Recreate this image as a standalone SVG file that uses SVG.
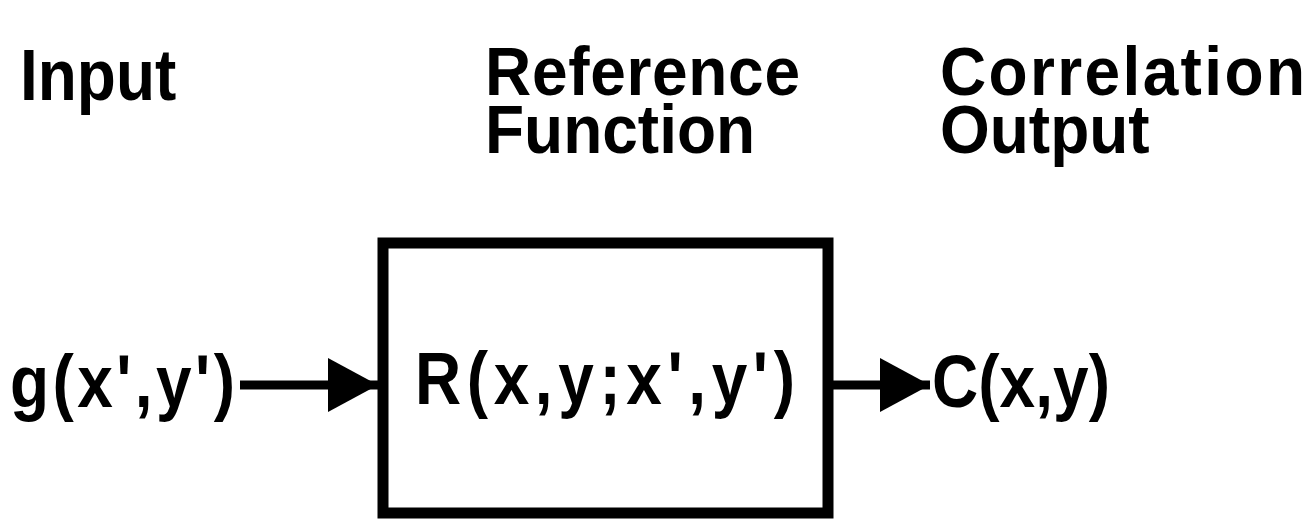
<svg xmlns="http://www.w3.org/2000/svg" width="1313" height="523" viewBox="0 0 1313 523">
<style>
.t{font-family:"Liberation Sans",Arial,sans-serif;font-weight:bold;font-size:64px;fill:#000}
</style>
<defs>
<marker id="ah" markerUnits="userSpaceOnUse" markerWidth="52" markerHeight="56" refX="50" refY="28" orient="auto">
<path d="M0,1 L50,28 L0,55 Z" fill="#000"/>
</marker>
</defs>
<rect width="1313" height="523" fill="#fff"/>
<g id="title-input"><text class="t" transform="translate(20,100) scale(1,1.12)">Input</text></g>
<g id="title-reference"><text class="t" transform="translate(485,95) scale(1,1.08)" textLength="315" lengthAdjust="spacing">Reference</text><text class="t" transform="translate(485,153) scale(1,1.08)">Function</text></g>
<g id="title-correlation"><text class="t" transform="translate(940,95) scale(1,1.08)" textLength="365" lengthAdjust="spacing">Correlation</text><text class="t" transform="translate(940,153) scale(1,1.08)">Output</text></g>
<g id="input"><text class="t" transform="translate(10,407) scale(1,1.15)" textLength="225" lengthAdjust="spacing">g(x',y')</text></g>
<g id="box"><rect x="383" y="243" width="445" height="270" fill="none" stroke="#000" stroke-width="11"/><text class="t" transform="translate(415,404) scale(1,1.15)" textLength="380" lengthAdjust="spacing">R(x,y;x',y')</text></g>
<g id="output"><text class="t" transform="translate(932,407) scale(1,1.15)" textLength="178" lengthAdjust="spacing">C(x,y)</text></g>
<g id="connectors">
<line x1="240" y1="385" x2="378" y2="385" stroke="#000" stroke-width="9" marker-end="url(#ah)"/>
<line x1="833" y1="385" x2="930" y2="385" stroke="#000" stroke-width="9" marker-end="url(#ah)"/>
</g>
</svg>
